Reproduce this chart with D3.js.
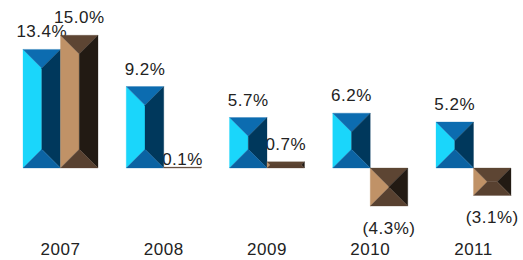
<!DOCTYPE html>
<html>
<head>
<meta charset="utf-8">
<script src="https://cdnjs.cloudflare.com/ajax/libs/d3/7.8.5/d3.min.js"></script>
<style>
  body { margin: 0; background: #fff; }
  text { font-family: Arial, "Liberation Sans", sans-serif; fill: #222; letter-spacing: 0.5px; }
</style>
</head>
<body>
<div id="chart"></div>
<script>
var years = ["2007", "2008", "2009", "2010", "2011"];
var seriesNames = ["a", "b"];
var blueValues = [13.4, 9.2, 5.7, 6.2, 5.2];
var brownValues = [15.0, 0.1, 0.7, -4.3, -3.1];
var blueLabels = ["13.4%", "9.2%", "5.7%", "6.2%", "5.2%"];
var brownLabels = ["15.0%", "0.1%", "0.7%", "(4.3%)", "(3.1%)"];

var width = 523, height = 260;

// bevel colours: left, top, right, bottom
var faces = {
    a: ["#1ad6fb", "#0c6cb0", "#00385c", "#0b63a3"],
    b: ["#c09267", "#5d4533", "#221a13", "#584130"]
};

var svg = d3.select("#chart").append("svg")
    .attr("width", width)
    .attr("height", height);

var x = d3.scaleBand()
    .domain(years)
    .range([23, 511])
    .paddingInner(0.2736)
    .paddingOuter(0);

var xs = d3.scaleBand()
    .domain(seriesNames)
    .range([0, x.bandwidth()]);

var y = d3.scaleLinear()
    .domain([0, 15])
    .range([168, 35.25]);

var rows = [];
years.forEach(function(yr, i) {
    rows.push({ year: yr, s: "a", v: blueValues[i], label: blueLabels[i] });
    rows.push({ year: yr, s: "b", v: brownValues[i], label: brownLabels[i] });
});

// value labels go first, bars are drawn over them
svg.selectAll(".val")
    .data(rows)
    .enter()
    .append("text")
    .attr("class", "val")
    .attr("text-anchor", "middle")
    .style("font-size", "17px")
    .attr("x", function(d) { return x(d.year) + xs(d.s) + xs.bandwidth() / 2; })
    .attr("y", function(d) {
        if (d.v < 0) return y(d.v) + 28;
        // nearly flat bar: label sits just on the baseline
        if (y(0) - y(d.v) < 2) return y(d.v) - 2;
        return y(d.v) - 12;
    })
    .text(function(d) { return d.label; });

function bevel(x0, y0, x1, y1) {
    var d = Math.min(x1 - x0, y1 - y0) / 2;
    var ix0 = x0 + d, ix1 = x1 - d, iy0 = y0 + d, iy1 = y1 - d;
    return [
        [[x0, y0], [ix0, iy0], [ix0, iy1], [x0, y1]],   // left
        [[x0, y0], [x1, y0], [ix1, iy0], [ix0, iy0]],   // top
        [[x1, y0], [x1, y1], [ix1, iy1], [ix1, iy0]],   // right
        [[x0, y1], [ix0, iy1], [ix1, iy1], [x1, y1]]    // bottom
    ];
}

var bars = svg.selectAll(".bar")
    .data(rows)
    .enter()
    .append("g")
    .attr("class", "bar");

bars.each(function(d) {
    var x0 = x(d.year) + xs(d.s);
    var x1 = x0 + xs.bandwidth();
    var y0 = Math.min(y(d.v), y(0));
    var y1 = Math.max(y(d.v), y(0));
    var polys = bevel(x0, y0, x1, y1);
    d3.select(this).selectAll("path")
        .data(polys)
        .enter()
        .append("path")
        .attr("d", function(p) { return "M" + p.join("L") + "Z"; })
        .attr("fill", function(p, k) { return faces[d.s][k]; })
        .attr("stroke", function(p, k) { return faces[d.s][k]; })
        .attr("stroke-width", 0.3);
});

svg.selectAll(".cat")
    .data(years)
    .enter()
    .append("text")
    .attr("class", "cat")
    .attr("text-anchor", "middle")
    .style("font-size", "17px")
    .attr("x", function(d) { return x(d) + x.bandwidth() / 2; })
    .attr("y", 255)
    .text(function(d) { return d; });
</script>
</body>
</html>
